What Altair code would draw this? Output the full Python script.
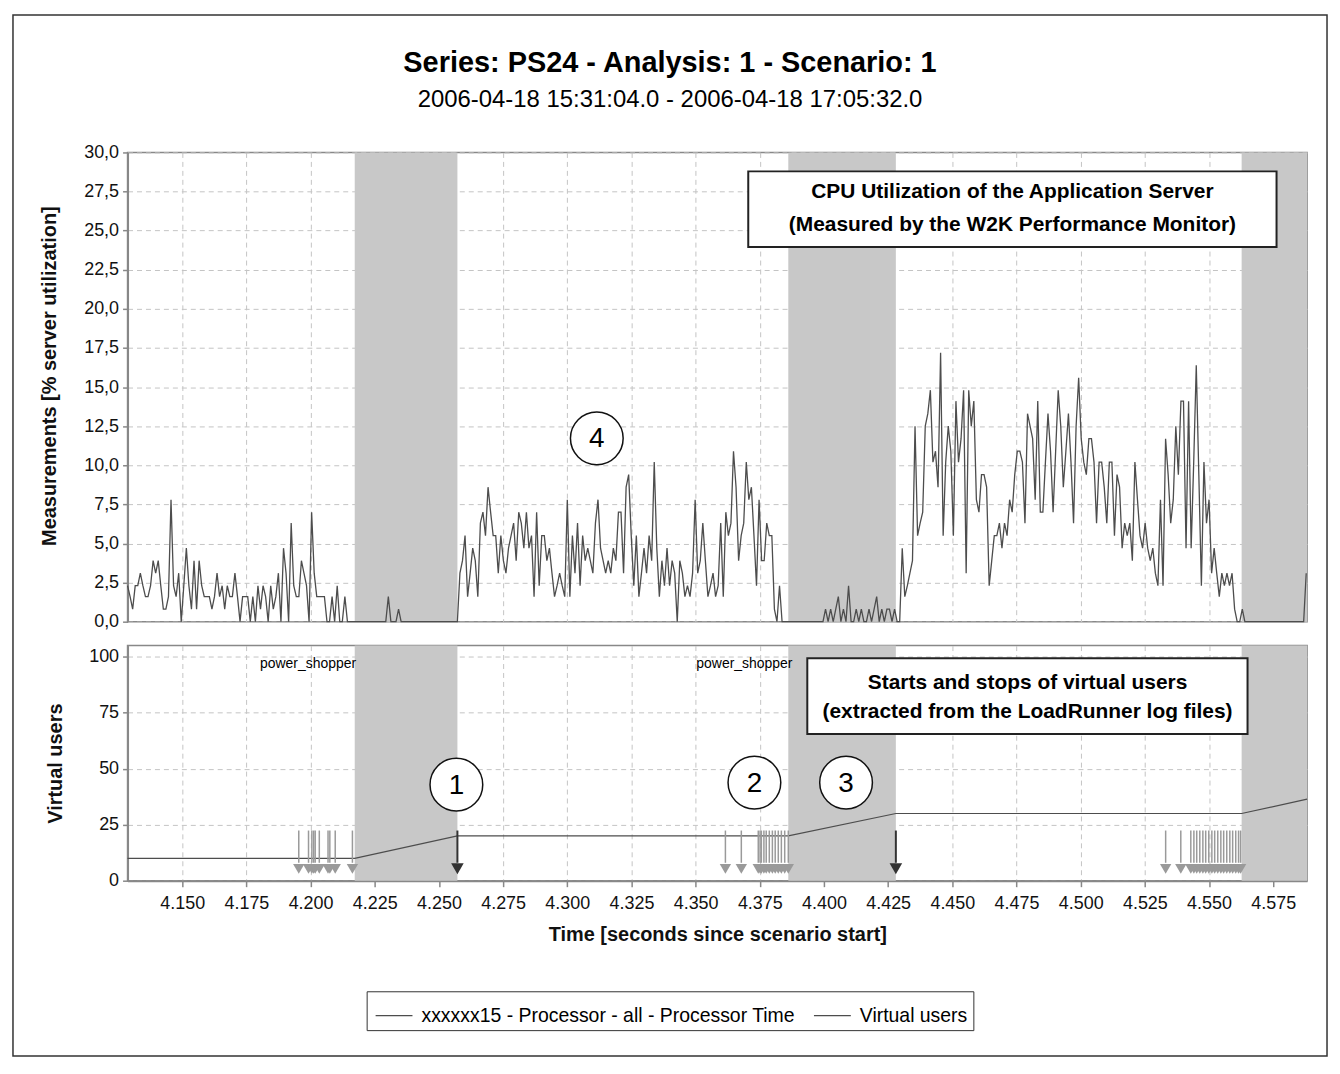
import altair as alt
import pandas as pd

FONT = "Liberation Sans"
CPU_NAME = "xxxxxx15 - Processor - all - Processor Time"
VU_NAME = "Virtual users"

X_DOMAIN = [4.1287, 4.5882]
X_TICKS = [4.150, 4.175, 4.200, 4.225, 4.250, 4.275, 4.300, 4.325, 4.350,
           4.375, 4.400, 4.425, 4.450, 4.475, 4.500, 4.525, 4.550, 4.575]
CPU_TICKS = [0, 2.5, 5, 7.5, 10, 12.5, 15, 17.5, 20, 22.5, 25, 27.5, 30]
VU_TICKS = [0, 25, 50, 75, 100]

# sampling of the CPU counter
T0 = 4.1287
DT = 0.000996

CPU_A = [2.3, 1.6, 0.8, 2.3, 2.3, 3.1, 2.3, 1.6, 1.6, 2.3,
         3.9, 3.1, 3.9, 2.3, 0.8, 0.8, 1.6, 7.8, 2.3, 1.6,
         3.1, 0, 2.3, 4.7, 2.3, 0.8, 3.9, 0.8, 3.9, 2.3,
         1.6, 1.6, 1.6, 0.8, 1.6, 3.1, 1.6, 2.3, 0.8, 2.3,
         1.6, 1.6, 3.1, 1.6, 0, 1.6, 1.6, 1.6, 0, 1.6,
         0, 2.3, 0.8, 2.3, 1.6, 0, 2.3, 0.8, 1.6, 3.1,
         0, 4.7, 3.1, 0, 6.3, 2.3, 1.6, 1.6, 3.9, 3.1,
         2.3, 0, 7.0, 3.1, 1.6, 1.6, 1.6, 1.6, 0, 0,
         1.6, 0, 2.3, 0, 0, 1.6, 0]
CPU_BAND1 = [0, 0, 0, 0, 0, 0, 0, 0, 0, 0, 0, 0, 0, 0, 0, 1.6, 0, 0, 0, 0.8,
             0, 0, 0, 0, 0, 0, 0, 0, 0, 0, 0, 0, 0, 0, 0, 0, 0, 0, 0, 0, 0, 0]
CPU_B = [0, 3.1, 3.9, 5.5, 1.6, 3.1, 4.7, 3.9, 1.6, 6.3,
         7.0, 5.5, 8.6, 7.0, 5.5, 5.5, 3.1, 5.5, 3.9, 3.1,
         4.7, 5.5, 6.3, 3.9, 7.0, 6.3, 4.7, 7.0, 4.7, 5.5,
         1.6, 7.0, 2.3, 5.5, 5.5, 3.9, 4.7, 3.1, 1.6, 2.3,
         3.1, 2.3, 1.6, 7.8, 1.6, 5.5, 3.1, 6.3, 2.3, 5.5,
         3.9, 4.7, 3.9, 3.1, 6.3, 7.8, 4.7, 3.9, 3.1, 3.9,
         3.1, 4.7, 3.9, 7.0, 7.0, 3.1, 8.6, 9.4, 5.5, 2.3,
         5.5, 1.6, 3.1, 4.7, 3.1, 5.5]
CPU_C = [3.9, 10.2, 4.7, 1.6, 3.9, 2.3, 4.7, 2.3, 3.9, 3.1,
         0, 3.9, 3.1, 1.6, 2.3, 1.6, 3.1, 7.8, 3.1, 3.9,
         6.3, 3.9, 1.6, 2.3, 3.1, 1.6, 2.3, 6.3, 1.6, 7.0,
         5.5, 6.3, 10.9, 8.6, 3.9, 5.5, 6.3, 10.2, 7.8, 8.6,
         5.5, 2.3, 7.8, 3.9, 3.9, 6.3, 5.5, 5.5, 0.8, 0,
         2.3, 0]
CPU_BAND2 = [0, 0, 0, 0, 0, 0, 0, 0, 0, 0, 0, 0, 0, 0, 0, 0,
             0.8, 0, 0.8, 0, 0.8, 1.6, 0, 0.8, 0, 2.3,
             0, 0, 0.8, 0, 0.8, 0, 0, 0.8, 0, 0.8,
             1.6, 0, 0.8, 0, 0.8, 0.8, 0, 0.8, 0, 0]
CPU_D = [4.7, 1.6, 2.3, 3.1, 3.9, 12.5, 5.5, 6.3, 7.0, 12.5,
         13.3, 14.8, 10.2, 10.9, 8.6, 17.2, 5.5, 10.2, 12.5, 10.9,
         5.5, 14.1, 10.2, 11.7, 14.8, 3.1, 14.8, 12.5, 14.1, 7.8,
         7.0, 9.4, 9.4, 8.6, 2.3, 3.9, 5.5, 5.5, 6.3, 4.7,
         6.3, 5.5, 7.8, 7.0, 9.4, 10.9, 10.9, 10.2, 6.3, 13.3,
         12.5, 11.7, 7.8, 14.1, 7.0, 7.0, 10.2, 13.3, 10.9, 7.0,
         10.9, 14.8, 12.5, 8.6, 10.9, 13.3, 10.2, 6.3, 12.5, 15.6,
         11.7, 10.2, 9.4, 11.7, 11.7, 10.2, 6.3, 10.2, 10.2, 8.6,
         6.3, 10.2, 10.2, 5.5, 9.4, 8.6, 4.7, 6.3, 5.5, 6.3,
         3.9, 10.2, 7.8, 5.5, 4.7, 6.3, 4.7, 3.9, 4.7, 3.1,
         2.3, 7.8, 2.3, 11.7, 9.4, 6.3, 7.8, 12.5, 9.4, 14.1,
         14.1, 4.7, 14.1, 4.7, 10.2, 16.4, 9.4, 2.3, 10.2, 6.3,
         7.8, 3.1, 4.7, 3.1, 1.6, 3.1, 2.3, 3.1, 2.3, 3.1,
         0.8, 0, 0, 0.8, 0]
CPU_BAND3 = [0, 0, 0, 0, 0, 0, 0, 0, 0, 0, 0, 0, 0, 0, 0, 0, 0, 0, 0, 0, 0, 0, 0, 3.1]

# shaded ramp-up periods
BAND_START = [4.2172, 4.3861, 4.5627]
BAND_END = [4.2572, 4.4280, 4.5882]

# virtual users
VU_T = [4.1287, 4.2172, 4.2572, 4.3861, 4.4280, 4.5627, 4.5882]
VU_V = [10, 10, 20, 20, 30, 30, 36.4]

GRAY_ARROWS_T = [4.1954, 4.1992, 4.2005, 4.2012, 4.2018, 4.2034, 4.2068, 4.2075, 4.2096, 4.2163,
                 4.3616, 4.3678, 4.3744, 4.3751, 4.3756, 4.3766, 4.3775, 4.3787, 4.3799, 4.3810,
                 4.3822, 4.3834, 4.3847, 4.3861,
                 4.5331, 4.5390, 4.5429, 4.5441, 4.5452, 4.5464, 4.5476, 4.5487, 4.5499, 4.5511,
                 4.5522, 4.5534, 4.5546, 4.5557, 4.5569, 4.5581, 4.5592, 4.5604, 4.5615, 4.5623]
DARK_ARROWS_T = [4.2572, 4.4280]
ARROW_TOP = 22.4
ARROW_SHAFT_END = 8.0
ARROW_HEAD = 5.3

USER_LABELS = ["power_shopper", "power_shopper"]
USER_LABEL_T = [4.1990, 4.3690]
USER_LABEL_V = [96.9, 96.9]

UP_BOX = {"x1": [4.3705], "x2": [4.5763], "y1": [23.95], "y2": [28.79]}
UP_BOX_TEXT = ["CPU Utilization of the Application Server", "(Measured by the W2K Performance Monitor)"]
UP_BOX_TEXT_T = [4.4734, 4.4734]
UP_BOX_TEXT_V = [27.45, 25.35]

LOW_BOX = {"x1": [4.3935], "x2": [4.5650], "y1": [65.5], "y2": [99.3]}
LOW_BOX_TEXT = ["Starts and stops of virtual users", "(extracted from the LoadRunner log files)"]
LOW_BOX_TEXT_T = [4.4793, 4.4793]
LOW_BOX_TEXT_V = [88.2, 75.3]

MARKERS_LOW = ["1", "2", "3"]
MARKERS_LOW_T = [4.2568, 4.3729, 4.4086]
MARKERS_LOW_V = [42.9, 43.8, 43.8]
MARKERS_UP = ["4"]
MARKERS_UP_T = [4.3115]
MARKERS_UP_V = [11.72]

# ---------------- data frames ----------------
cpu_values = CPU_A + CPU_BAND1 + CPU_B + CPU_C + CPU_BAND2 + CPU_D + CPU_BAND3
cpu_df = pd.DataFrame({
    "t": [T0 + i * DT for i in range(len(cpu_values))],
    "v": cpu_values,
    "series": CPU_NAME,
})
bands_df = pd.DataFrame({"start": BAND_START, "end": BAND_END})
vu_df = pd.DataFrame({"t": VU_T, "v": VU_V, "series": VU_NAME})
gray_df = pd.DataFrame({"t": GRAY_ARROWS_T, "top": ARROW_TOP, "bottom": ARROW_SHAFT_END, "head": ARROW_HEAD})
dark_df = pd.DataFrame({"t": DARK_ARROWS_T, "top": ARROW_TOP, "bottom": ARROW_SHAFT_END, "head": ARROW_HEAD})
user_df = pd.DataFrame({"t": USER_LABEL_T, "v": USER_LABEL_V, "label": USER_LABELS})
up_box_df = pd.DataFrame(UP_BOX)
up_text_df = pd.DataFrame({"t": UP_BOX_TEXT_T, "v": UP_BOX_TEXT_V, "label": UP_BOX_TEXT})
low_box_df = pd.DataFrame(LOW_BOX)
low_text_df = pd.DataFrame({"t": LOW_BOX_TEXT_T, "v": LOW_BOX_TEXT_V, "label": LOW_BOX_TEXT})
mk_low_df = pd.DataFrame({"t": MARKERS_LOW_T, "v": MARKERS_LOW_V, "label": MARKERS_LOW})
mk_up_df = pd.DataFrame({"t": MARKERS_UP_T, "v": MARKERS_UP_V, "label": MARKERS_UP})
frame_df = pd.DataFrame({"k": [0]})

# ---------------- encodings ----------------
X_SCALE = alt.Scale(domain=X_DOMAIN, nice=False, zero=False)
UP_X_AXIS = alt.Axis(values=X_TICKS, labels=False, ticks=False, domain=False, title=None, grid=True)
LOW_X_AXIS = alt.Axis(values=X_TICKS, format=".3f", title="Time [seconds since scenario start]",
                      grid=True, labelFlush=False, labelOverlap=False, tickSize=6,
                      labelPadding=8, titlePadding=12)


def xu(field):
    return alt.X(f"{field}:Q", scale=X_SCALE, axis=UP_X_AXIS)


def xl(field):
    return alt.X(f"{field}:Q", scale=X_SCALE, axis=LOW_X_AXIS)


CPU_Y_SCALE = alt.Scale(domain=[0, 30], nice=False, zero=True)
CPU_Y_AXIS = alt.Axis(values=CPU_TICKS, labelExpr="replace(format(datum.value, '.1f'), '.', ',')",
                      title="Measurements [% server utilization]", grid=True, titlePadding=24,
                      titleY=224, labelOverlap=False, labelPadding=4)
VU_Y_SCALE = alt.Scale(domain=[0, 105], nice=False, zero=True)
VU_Y_AXIS = alt.Axis(values=VU_TICKS, format="d", title="Virtual users", grid=True, titlePadding=23,
                     labelOverlap=False, labelPadding=4)


def yu(field):
    return alt.Y(f"{field}:Q", scale=CPU_Y_SCALE, axis=CPU_Y_AXIS)


def yl(field):
    return alt.Y(f"{field}:Q", scale=VU_Y_SCALE, axis=VU_Y_AXIS)


COLOR_SCALE = alt.Scale(domain=[CPU_NAME, VU_NAME], range=["#4d4d4d", "#4d4d4d"])
LEGEND = alt.Legend(orient="none", legendX=240, legendY=842, direction="horizontal", title=None,
                    symbolType="stroke", symbolSize=1369, symbolStrokeWidth=1.2, symbolOffset=3,
                    labelFontSize=19.5, labelFont=FONT, labelColor="black", labelLimit=700,
                    strokeColor="#333333", padding=5, fillColor="white", columnPadding=14,
                    labelOffset=8)
COLOR = alt.Color("series:N", scale=COLOR_SCALE, legend=LEGEND)

BAND_COLOR = "#c8c8c8"

# ---------------- upper panel ----------------
up_bands = alt.Chart(bands_df).mark_rect(color=BAND_COLOR).encode(x=xu("start"), x2="end")
cpu_line = alt.Chart(cpu_df).mark_line(strokeWidth=1.3).encode(x=xu("t"), y=yu("v"), color=COLOR)
up_box = alt.Chart(up_box_df).mark_rect(fill="white", stroke="#222222", strokeWidth=2).encode(
    x=xu("x1"), x2="x2", y=yu("y1"), y2="y2")
up_text = alt.Chart(up_text_df).mark_text(font=FONT, fontSize=21, fontWeight="bold", color="black",
                                          align="center", baseline="middle").encode(
    x=xu("t"), y=yu("v"), text="label:N")
up_circ = alt.Chart(mk_up_df).mark_circle(size=2800, fill="white", stroke="#111111", strokeWidth=1.5,
                                         opacity=1).encode(x=xu("t"), y=yu("v"))
up_num = alt.Chart(mk_up_df).mark_text(font=FONT, fontSize=28, color="black", align="center",
                                       baseline="middle", dy=1).encode(x=xu("t"), y=yu("v"), text="label:N")
frame = alt.Chart(frame_df).mark_rect(fillOpacity=0, stroke="#333333", strokeWidth=1.5).encode(
    x=alt.value(-115), x2=alt.value(1204), y=alt.value(-138), y2=alt.value(907))

upper = alt.layer(up_bands, cpu_line, up_box, up_text, up_circ, up_num, frame).properties(
    width=1184, height=471)

# ---------------- lower panel ----------------
low_bands = alt.Chart(bands_df).mark_rect(color=BAND_COLOR).encode(x=xl("start"), x2="end")
vu_line = alt.Chart(vu_df).mark_line(strokeWidth=1.2).encode(x=xl("t"), y=yl("v"), color=COLOR)
gray_rules = alt.Chart(gray_df).mark_rule(color="#9a9a9a", strokeWidth=1.5).encode(
    x=xl("t"), y=yl("top"), y2="bottom")
gray_heads = alt.Chart(gray_df).mark_point(shape="triangle-down", size=130, filled=True,
                                           color="#9a9a9a", opacity=1).encode(x=xl("t"), y=yl("head"))
dark_rules = alt.Chart(dark_df).mark_rule(color="#333333", strokeWidth=2).encode(
    x=xl("t"), y=yl("top"), y2="bottom")
dark_heads = alt.Chart(dark_df).mark_point(shape="triangle-down", size=160, filled=True,
                                           color="#333333", opacity=1).encode(x=xl("t"), y=yl("head"))
user_text = alt.Chart(user_df).mark_text(font=FONT, fontSize=14, color="black", align="center",
                                         baseline="middle").encode(x=xl("t"), y=yl("v"), text="label:N")
low_box = alt.Chart(low_box_df).mark_rect(fill="white", stroke="#222222", strokeWidth=2).encode(
    x=xl("x1"), x2="x2", y=yl("y1"), y2="y2")
low_text = alt.Chart(low_text_df).mark_text(font=FONT, fontSize=21, fontWeight="bold", color="black",
                                            align="center", baseline="middle").encode(
    x=xl("t"), y=yl("v"), text="label:N")
low_circ = alt.Chart(mk_low_df).mark_circle(size=2800, fill="white", stroke="#111111", strokeWidth=1.5,
                                           opacity=1).encode(x=xl("t"), y=yl("v"))
low_num = alt.Chart(mk_low_df).mark_text(font=FONT, fontSize=28, color="black", align="center",
                                         baseline="middle", dy=1).encode(x=xl("t"), y=yl("v"), text="label:N")

lower = alt.layer(low_bands, vu_line, gray_rules, gray_heads, dark_rules, dark_heads, user_text,
                  low_box, low_text, low_circ, low_num).properties(width=1184, height=236)

chart = alt.vconcat(upper, lower, spacing=24, bounds="flush").properties(
    title=alt.TitleParams(
        text="Series: PS24 - Analysis: 1 - Scenario: 1",
        subtitle="2006-04-18 15:31:04.0 - 2006-04-18 17:05:32.0",
        font=FONT, fontSize=29, fontWeight="bold", color="black",
        subtitleFont=FONT, subtitleFontSize=24, subtitleColor="black",
        subtitlePadding=10, anchor="middle", offset=-99),
    padding=3,
).configure_view(
    stroke="#888888", strokeWidth=1.5
).configure_axis(
    labelFont=FONT, titleFont=FONT, labelFontSize=18, titleFontSize=20, titleFontWeight="bold",
    labelColor="#111111", titleColor="#111111", domainColor="#888888", domainWidth=2,
    tickColor="#888888", tickWidth=1.5, tickSize=5, gridColor="#c4c4c4", gridDash=[5, 4],
    gridWidth=1
)

chart.save("out.html", embed_options={"renderer": "svg", "actions": False})
